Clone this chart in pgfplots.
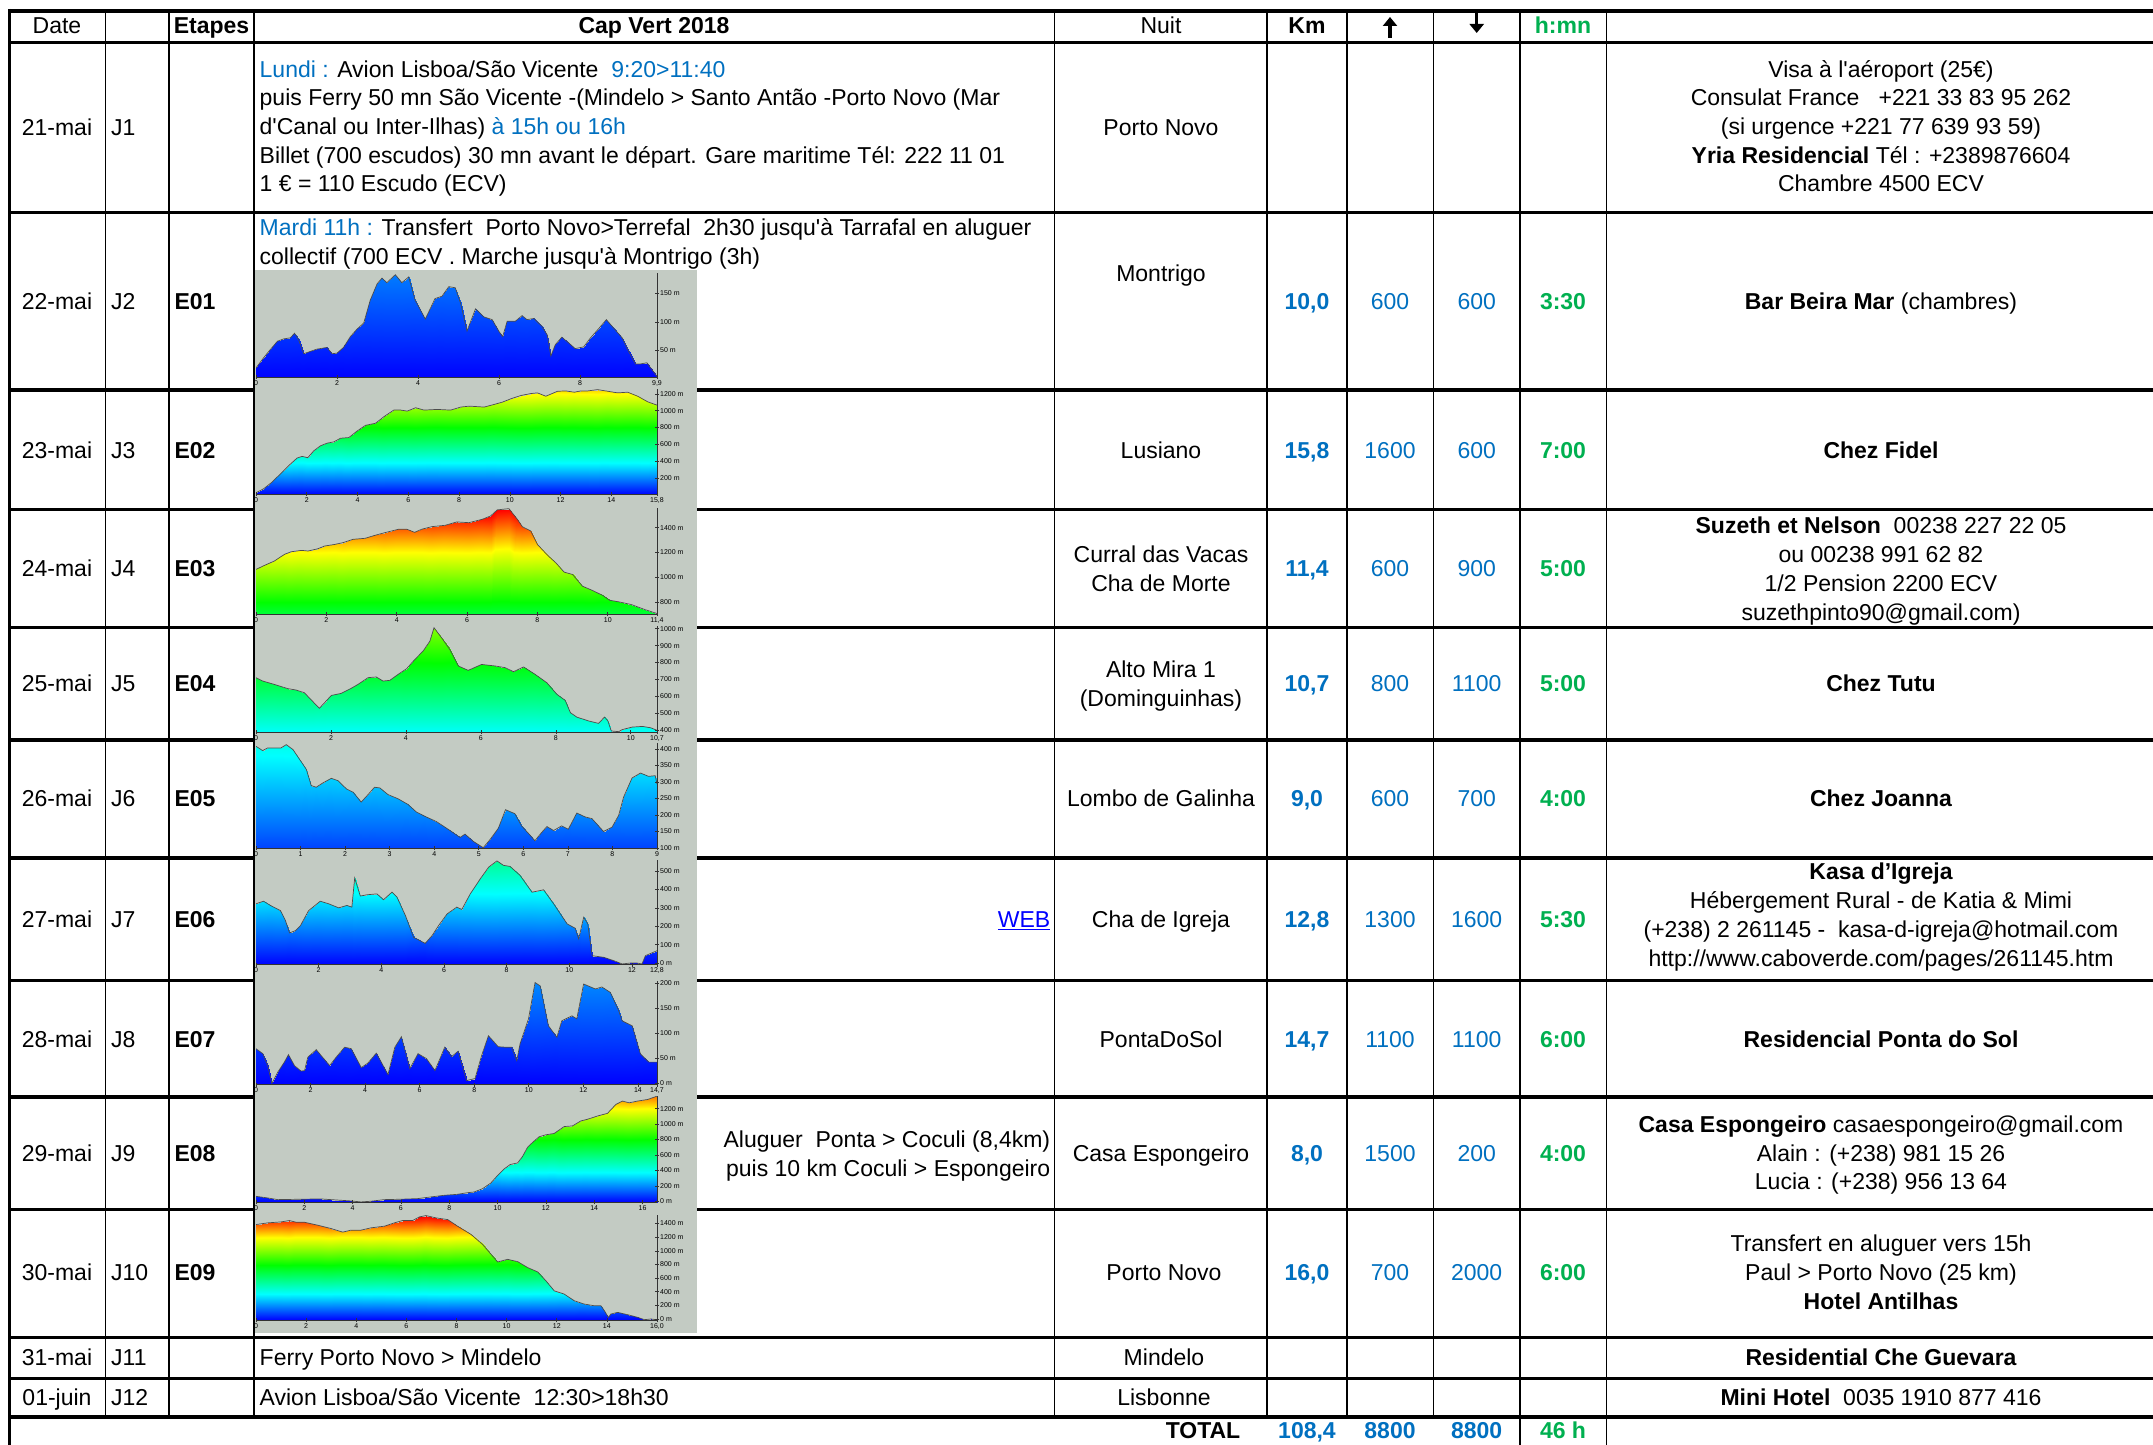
\documentclass[border=0pt]{standalone}
\usepackage{fontspec}
\setmainfont{Liberation Sans}
\newfontfamily\lib{Liberation Sans}
\usepackage{pgfplots}
\pgfplotsset{compat=1.18}
\usepackage{pgfplotstable}
\usetikzlibrary{arrows.meta}

\definecolor{xblue}{RGB}{0,112,192}
\definecolor{xgreen}{RGB}{0,176,80}
\definecolor{webblue}{RGB}{0,0,255}
\definecolor{imgbg}{RGB}{195,203,195}

\newcommand\tf{\lib\fontsize{23}{27}\selectfont}
\newcommand\bl[1]{\textcolor{xblue}{#1}}
\newcommand\bb[1]{\textcolor{xblue}{\bfseries #1}}
\newcommand\gb[1]{\textcolor{xgreen}{\bfseries #1}}

% elevation profiles: each pair of rows = (km, altitude) then (km, axis floor)
\pgfplotstableread[row sep=\\]{
x y\\
0 19\\0 3\\ 0.19 37\\0.19 3\\ 0.35 51\\0.35 3\\ 0.53 66\\0.53 3\\ 0.68 70\\0.68 3\\
0.85 72\\0.85 3\\ 0.95 80\\0.95 3\\ 1.05 69\\1.05 3\\ 1.18 44\\1.18 3\\ 1.34 48\\1.34 3\\
1.5 52\\1.5 3\\ 1.75 55\\1.75 3\\ 1.88 44\\1.88 3\\ 2.0 45\\2.0 3\\ 2.16 55\\2.16 3\\
2.33 74\\2.33 3\\ 2.49 87\\2.49 3\\ 2.66 98\\2.66 3\\ 2.82 138\\2.82 3\\ 2.99 167\\2.99 3\\
3.11 177\\3.11 3\\ 3.23 169\\3.23 3\\ 3.44 183\\3.44 3\\ 3.6 169\\3.6 3\\ 3.77 179\\3.77 3\\
3.93 138\\3.93 3\\ 4.18 105\\4.18 3\\ 4.42 141\\4.42 3\\ 4.59 145\\4.59 3\\ 4.76 162\\4.76 3\\
4.92 160\\4.92 3\\ 5.05 133\\5.05 3\\ 5.21 84\\5.21 3\\ 5.42 123\\5.42 3\\ 5.62 109\\5.62 3\\
5.83 104\\5.83 3\\ 6.0 83\\6.0 3\\ 6.09 74\\6.09 3\\ 6.2 101\\6.2 3\\ 6.4 101\\6.4 3\\
6.57 111\\6.57 3\\ 6.69 104\\6.69 3\\ 6.86 106\\6.86 3\\ 7.06 92\\7.06 3\\ 7.19 77\\7.19 3\\
7.28 40\\7.28 3\\ 7.39 60\\7.39 3\\ 7.55 73\\7.55 3\\ 7.72 63\\7.72 3\\ 7.88 53\\7.88 3\\
8.09 56\\8.09 3\\ 8.26 72\\8.26 3\\ 8.46 88\\8.46 3\\ 8.65 104\\8.65 3\\ 8.83 89\\8.83 3\\
9.04 72\\9.04 3\\ 9.2 48\\9.2 3\\ 9.37 26\\9.37 3\\ 9.49 26\\9.49 3\\ 9.65 28\\9.65 3\\
9.9 4\\9.9 3\\
}\pA

\pgfplotstableread[row sep=\\]{
x y\\
0 23\\0 8\\ 0.3 70\\0.3 8\\ 0.63 149\\0.63 8\\ 0.96 247\\0.96 8\\ 1.29 346\\1.29 8\\
1.62 436\\1.62 8\\ 1.82 456\\1.82 8\\ 2.04 440\\2.04 8\\ 2.28 523\\2.28 8\\ 2.54 582\\2.54 8\\
2.8 613\\2.8 8\\ 3.07 629\\3.07 8\\ 3.33 672\\3.33 8\\ 3.66 680\\3.66 8\\ 3.99 759\\3.99 8\\
4.32 826\\4.32 8\\ 4.71 850\\4.71 8\\ 5.04 928\\5.04 8\\ 5.43 1007\\5.43 8\\ 5.7 1007\\5.7 8\\
5.96 995\\5.96 8\\ 6.29 1035\\6.29 8\\ 6.62 1007\\6.62 8\\ 7.14 1015\\7.14 8\\ 7.67 1007\\7.67 8\\
8.07 1043\\8.07 8\\ 8.4 1054\\8.4 8\\ 8.99 1043\\8.99 8\\ 9.38 1074\\9.38 8\\ 9.71 1102\\9.71 8\\
10.04 1141\\10.04 8\\ 10.43 1180\\10.43 8\\ 10.83 1204\\10.83 8\\ 11.09 1212\\11.09 8\\
11.42 1172\\11.42 8\\ 11.88 1231\\11.88 8\\ 12.21 1235\\12.21 8\\ 12.54 1220\\12.54 8\\
12.8 1235\\12.8 8\\ 13.07 1235\\13.07 8\\ 13.46 1251\\13.46 8\\ 13.86 1231\\13.86 8\\
14.25 1212\\14.25 8\\ 14.64 1220\\14.64 8\\ 15.04 1172\\15.04 8\\ 15.43 1106\\15.43 8\\
15.8 1066\\15.8 8\\
}\pB

\pgfplotstableread[row sep=\\]{
x y\\
0 1064\\0 705\\ 0.24 1096\\0.24 705\\ 0.52 1131\\0.52 705\\ 0.81 1185\\0.81 705\\
1.0 1206\\1.0 705\\ 1.29 1217\\1.29 705\\ 1.48 1212\\1.48 705\\ 1.76 1230\\1.76 705\\
1.95 1252\\1.95 705\\ 2.24 1265\\2.24 705\\ 2.47 1279\\2.47 705\\ 2.76 1306\\2.76 705\\
3.1 1314\\3.1 705\\ 3.38 1338\\3.38 705\\ 3.67 1360\\3.67 705\\ 4.05 1387\\4.05 705\\
4.29 1387\\4.29 705\\ 4.51 1362\\4.51 705\\ 4.71 1387\\4.71 705\\ 5.0 1408\\5.0 705\\
5.38 1419\\5.38 705\\ 5.71 1446\\5.71 705\\ 6.05 1440\\6.05 705\\ 6.43 1467\\6.43 705\\
6.67 1494\\6.67 705\\ 6.86 1543\\6.86 705\\ 7.19 1553\\7.19 705\\ 7.43 1467\\7.43 705\\
7.57 1408\\7.57 705\\ 7.81 1373\\7.81 705\\ 8.0 1265\\8.0 705\\ 8.29 1177\\8.29 705\\
8.52 1118\\8.52 705\\ 8.76 1042\\8.76 705\\ 9.0 1023\\9.0 705\\ 9.28 929\\9.28 705\\
9.57 894\\9.57 705\\ 9.86 854\\9.86 705\\ 10.05 816\\10.05 705\\ 10.33 802\\10.33 705\\
10.67 781\\10.67 705\\ 11.05 741\\11.05 705\\ 11.4 709\\11.4 705\\
}\pC

\pgfplotstableread[row sep=\\]{
x y\\
0 711\\0 390\\ 0.18 691\\0.18 390\\ 0.49 671\\0.49 390\\ 0.85 646\\0.85 390\\
1.07 638\\1.07 390\\ 1.29 622\\1.29 390\\ 1.52 569\\1.52 390\\ 1.69 530\\1.69 390\\
1.83 563\\1.83 390\\ 2.01 606\\2.01 390\\ 2.27 618\\2.27 390\\ 2.54 648\\2.54 390\\
2.72 671\\2.72 390\\ 2.99 711\\2.99 390\\ 3.21 715\\3.21 390\\ 3.39 691\\3.39 390\\
3.57 695\\3.57 390\\ 3.79 730\\3.79 390\\ 4.02 764\\4.02 390\\ 4.24 819\\4.24 390\\
4.46 868\\4.46 390\\ 4.64 927\\4.64 390\\ 4.75 1006\\4.75 390\\ 4.95 947\\4.95 390\\
5.17 878\\5.17 390\\ 5.4 780\\5.4 390\\ 5.66 754\\5.66 390\\ 6.02 789\\6.02 390\\
6.38 780\\6.38 390\\ 6.65 770\\6.65 390\\ 6.87 746\\6.87 390\\ 7.14 774\\7.14 390\\
7.45 730\\7.45 390\\ 7.76 681\\7.76 390\\ 8.03 612\\8.03 390\\ 8.25 577\\8.25 390\\
8.39 504\\8.39 390\\ 8.56 478\\8.56 390\\ 8.88 455\\8.88 390\\ 9.14 441\\9.14 390\\
9.3 478\\9.3 390\\ 9.39 455\\9.39 390\\ 9.48 396\\9.48 390\\ 9.68 392\\9.68 390\\
9.77 404\\9.77 390\\ 10.04 419\\10.04 390\\ 10.31 423\\10.31 390\\ 10.53 415\\10.53 390\\
10.7 400\\10.7 390\\
}\pD

\pgfplotstableread[row sep=\\]{
x y\\
0 408\\0 100\\ 0.15 395\\0.15 100\\ 0.26 403\\0.26 100\\ 0.56 403\\0.56 100\\
0.68 413\\0.68 100\\ 0.83 398\\0.83 100\\ 0.98 368\\0.98 100\\ 1.13 338\\1.13 100\\
1.24 289\\1.24 100\\ 1.35 284\\1.35 100\\ 1.5 297\\1.5 100\\ 1.69 311\\1.69 100\\
1.84 304\\1.84 100\\ 2.03 279\\2.03 100\\ 2.18 269\\2.18 100\\ 2.36 239\\2.36 100\\
2.51 261\\2.51 100\\ 2.66 284\\2.66 100\\ 2.78 282\\2.78 100\\ 2.96 262\\2.96 100\\
3.19 249\\3.19 100\\ 3.41 232\\3.41 100\\ 3.6 209\\3.6 100\\ 3.79 196\\3.79 100\\
4.05 180\\4.05 100\\ 4.31 157\\4.31 100\\ 4.58 132\\4.58 100\\ 4.69 142\\4.69 100\\
4.88 120\\4.88 100\\ 5.1 101\\5.1 100\\ 5.25 125\\5.25 100\\ 5.44 160\\5.44 100\\
5.6 216\\5.6 100\\ 5.81 204\\5.81 100\\ 5.96 167\\5.96 100\\ 6.11 145\\6.11 100\\
6.26 122\\6.26 100\\ 6.41 147\\6.41 100\\ 6.53 165\\6.53 100\\ 6.68 153\\6.68 100\\
6.86 167\\6.86 100\\ 7.01 157\\7.01 100\\ 7.2 206\\7.2 100\\ 7.39 194\\7.39 100\\
7.54 189\\7.54 100\\ 7.8 150\\7.8 100\\ 7.99 163\\7.99 100\\ 8.14 199\\8.14 100\\
8.25 254\\8.25 100\\ 8.44 312\\8.44 100\\ 8.63 327\\8.63 100\\ 8.81 317\\8.81 100\\
8.96 319\\8.96 100\\ 9.0 294\\9.0 100\\
}\pE

\pgfplotstableread[row sep=\\]{
x y\\
0 322\\0 -8\\ 0.24 336\\0.24 -8\\ 0.46 313\\0.46 -8\\ 0.78 285\\0.78 -8\\
0.94 231\\0.94 -8\\ 1.07 164\\1.07 -8\\ 1.26 176\\1.26 -8\\ 1.42 204\\1.42 -8\\
1.68 285\\1.68 -8\\ 2.05 336\\2.05 -8\\ 2.32 322\\2.32 -8\\ 2.64 300\\2.64 -8\\
2.9 313\\2.9 -8\\ 3.06 304\\3.06 -8\\ 3.15 462\\3.15 -8\\ 3.33 364\\3.33 -8\\
3.54 371\\3.54 -8\\ 3.86 376\\3.86 -8\\ 4.07 344\\4.07 -8\\ 4.34 385\\4.34 -8\\
4.5 358\\4.5 -8\\ 4.77 258\\4.77 -8\\ 5.03 140\\5.03 -8\\ 5.4 107\\5.4 -8\\
5.62 149\\5.62 -8\\ 5.83 204\\5.83 -8\\ 6.1 267\\6.1 -8\\ 6.41 304\\6.41 -8\\
6.57 291\\6.57 -8\\ 6.84 376\\6.84 -8\\ 7.16 458\\7.16 -8\\ 7.43 522\\7.43 -8\\
7.69 555\\7.69 -8\\ 7.9 531\\7.9 -8\\ 8.11 525\\8.11 -8\\ 8.43 476\\8.43 -8\\
8.81 385\\8.81 -8\\ 9.18 398\\9.18 -8\\ 9.5 322\\9.5 -8\\ 9.93 213\\9.93 -8\\
10.19 189\\10.19 -8\\ 10.3 131\\10.3 -8\\ 10.46 249\\10.46 -8\\ 10.59 213\\10.59 -8\\
10.73 40\\10.73 -8\\ 11.1 31\\11.1 -8\\ 11.42 13\\11.42 -8\\ 11.69 -5\\11.69 -8\\
11.95 0\\11.95 -8\\ 12.16 0\\12.16 -8\\ 12.32 -5\\12.32 -8\\ 12.43 40\\12.43 -8\\
12.8 67\\12.8 -8\\
}\pF

\pgfplotstableread[row sep=\\]{
x y\\
0 69\\0 -3\\ 0.25 59\\0.25 -3\\ 0.43 35\\0.43 -3\\ 0.58 -1\\0.58 -3\\ 0.8 22\\0.8 -3\\
1.04 42\\1.04 -3\\ 1.19 57\\1.19 -3\\ 1.41 35\\1.41 -3\\ 1.65 24\\1.65 -3\\ 1.78 25\\1.78 -3\\
1.9 52\\1.9 -3\\ 2.21 67\\2.21 -3\\ 2.39 55\\2.39 -3\\ 2.7 35\\2.7 -3\\ 2.94 52\\2.94 -3\\
3.25 72\\3.25 -3\\ 3.49 69\\3.49 -3\\ 3.86 31\\3.86 -3\\ 4.1 40\\4.1 -3\\ 4.41 60\\4.41 -3\\
4.66 35\\4.66 -3\\ 4.84 17\\4.84 -3\\ 5.09 72\\5.09 -3\\ 5.33 93\\5.33 -3\\ 5.64 29\\5.64 -3\\
5.94 59\\5.94 -3\\ 6.25 49\\6.25 -3\\ 6.56 25\\6.56 -3\\ 6.92 72\\6.92 -3\\ 7.17 53\\7.17 -3\\
7.41 64\\7.41 -3\\ 7.72 5\\7.72 -3\\ 8.03 9\\8.03 -3\\ 8.27 55\\8.27 -3\\ 8.52 95\\8.52 -3\\
8.88 73\\8.88 -3\\ 9.13 72\\9.13 -3\\ 9.37 72\\9.37 -3\\ 9.56 45\\9.56 -3\\ 9.68 79\\9.68 -3\\
9.99 129\\9.99 -3\\ 10.23 202\\10.23 -3\\ 10.42 195\\10.42 -3\\ 10.72 115\\10.72 -3\\
11.03 92\\11.03 -3\\ 11.21 125\\11.21 -3\\ 11.58 135\\11.58 -3\\ 11.76 129\\11.76 -3\\
12.01 199\\12.01 -3\\ 12.44 189\\12.44 -3\\ 12.68 193\\12.68 -3\\ 12.99 182\\12.99 -3\\
13.3 145\\13.3 -3\\ 13.42 125\\13.42 -3\\ 13.79 115\\13.79 -3\\ 14.09 59\\14.09 -3\\
14.4 42\\14.4 -3\\ 14.7 42\\14.7 -3\\
}\pG

\pgfplotstableread[row sep=\\]{
x y\\
0 64\\0 -10\\ 0.48 43\\0.48 -10\\ 0.9 21\\0.9 -10\\ 1.86 26\\1.86 -10\\ 2.69 30\\2.69 -10\\
3.1 21\\3.1 -10\\ 3.93 4\\3.93 -10\\ 4.34 -9\\4.34 -10\\ 4.76 0\\4.76 -10\\ 5.31 21\\5.31 -10\\
6.0 26\\6.0 -10\\ 6.69 34\\6.69 -10\\ 7.24 56\\7.24 -10\\ 7.79 77\\7.79 -10\\ 8.34 90\\8.34 -10\\
8.76 111\\8.76 -10\\ 9.03 120\\9.03 -10\\ 9.38 163\\9.38 -10\\ 9.72 236\\9.72 -10\\
10.0 334\\10.0 -10\\ 10.28 420\\10.28 -10\\ 10.52 476\\10.52 -10\\ 10.83 497\\10.83 -10\\
11.03 579\\11.03 -10\\ 11.24 699\\11.24 -10\\ 11.45 763\\11.45 -10\\ 11.72 836\\11.72 -10\\
12.0 862\\12.0 -10\\ 12.34 879\\12.34 -10\\ 12.76 969\\12.76 -10\\ 13.1 977\\13.1 -10\\
13.45 1042\\13.45 -10\\ 13.72 1063\\13.72 -10\\ 14.14 1106\\14.14 -10\\ 14.55 1140\\14.55 -10\\
14.9 1256\\14.9 -10\\ 15.17 1299\\15.17 -10\\ 15.45 1277\\15.45 -10\\ 15.79 1299\\15.79 -10\\
16.21 1320\\16.21 -10\\ 16.6 1363\\16.6 -10\\
}\pH

\pgfplotstableread[row sep=\\]{
x y\\
0 1385\\0 -15\\ 0.47 1410\\0.47 -15\\ 1.0 1424\\1.0 -15\\ 1.33 1444\\1.33 -15\\
1.6 1419\\1.6 -15\\ 1.93 1419\\1.93 -15\\ 2.46 1376\\2.46 -15\\ 2.99 1327\\2.99 -15\\
3.46 1274\\3.46 -15\\ 3.79 1303\\3.79 -15\\ 4.19 1303\\4.19 -15\\ 4.59 1337\\4.59 -15\\
5.12 1361\\5.12 -15\\ 5.52 1410\\5.52 -15\\ 5.85 1444\\5.85 -15\\ 6.25 1444\\6.25 -15\\
6.52 1497\\6.52 -15\\ 6.78 1517\\6.78 -15\\ 7.18 1483\\7.18 -15\\ 7.65 1458\\7.65 -15\\
8.04 1361\\8.04 -15\\ 8.58 1240\\8.58 -15\\ 9.04 1094\\9.04 -15\\ 9.38 948\\9.38 -15\\
9.64 836\\9.64 -15\\ 10.04 875\\10.04 -15\\ 10.44 841\\10.44 -15\\ 10.84 754\\10.84 -15\\
11.24 690\\11.24 -15\\ 11.57 559\\11.57 -15\\ 11.9 413\\11.9 -15\\ 12.3 365\\12.3 -15\\
12.7 267\\12.7 -15\\ 13.1 219\\13.1 -15\\ 13.5 194\\13.5 -15\\ 13.76 194\\13.76 -15\\
13.9 122\\13.9 -15\\ 14.06 24\\14.06 -15\\ 14.16 73\\14.16 -15\\ 14.43 97\\14.43 -15\\
14.83 63\\14.83 -15\\ 15.23 24\\15.23 -15\\ 15.5 -10\\15.5 -15\\ 15.76 0\\15.76 -15\\
16.0 -12\\16.0 -15\\
}\pI

\pgfplotsset{
  prof/.style={
    scale only axis, width=401pt, anchor=south west, xmin=0,
    axis x line*=bottom, axis y line*=right, axis on top,
    axis line style={black!80, line width=0.7pt},
    every tick/.style={black!80, line width=0.6pt},
    tick align=center, major tick length=4pt,
    ticklabel style={font=\fontsize{7}{8}\selectfont, inner sep=1pt},
    colormap={elev}{rgb255(0cm)=(0,0,255); rgb255(3.8cm)=(0,255,255);
      rgb255(8cm)=(0,255,0); rgb255(12cm)=(255,255,0); rgb255(15cm)=(255,0,0)},
    point meta min=0, point meta max=1500,
  },
  fillp/.style={surf, shader=interp, point meta=y, mesh/ordering=y varies, mesh/rows=2},
  linep/.style={black!70, line width=0.7pt, no marks, each nth point=2, filter discard warning=false},
}

\begin{document}
\begin{tikzpicture}[x=1pt, y=-1pt, t/.style={font=\tf, inner sep=0pt, anchor=base}]
\useasboundingbox (0,0) rectangle (2153,1445);
\begin{scope}
\clip (0,0) rectangle (2153,1445);
\fill[white] (0,0) rectangle (2153,1445);

% grid
\foreach \yy in {42.6,212.8,390,509.4,627.5,740,858,980.4,1097,1209.7,1337.4,1378.6,1417}
  \draw[line width=3.2pt] (8,\yy) -- (2160,\yy);
\draw[line width=4pt] (8,11) -- (2160,11);
\foreach \xx in {105.7,169,254,1054.5,1267,1347,1433.5}
  \draw[line width=1.3pt] (\xx,11) -- (\xx,1417);
\foreach \xx in {1520,1606.5}
  \draw[line width=1.3pt] (\xx,11) -- (\xx,1450);
\draw[line width=3pt] (9.6,9) -- (9.6,1450);

% profile backgrounds
\foreach \ya/\yb in {270/389,388/507,507/626,625/741,741/858.5,858/979,979/1096.5,1095/1211,1211/1333}
  \fill[imgbg] (254.5,\ya) rectangle (697,\yb);

\coordinate (a1) at (256,377);
\coordinate (a2) at (256,494);
\coordinate (a3) at (256,614);
\coordinate (a4) at (256,732);
\coordinate (a5) at (256,848);
\coordinate (a6) at (256,964.5);
\coordinate (a7) at (256,1084.5);
\coordinate (a8) at (256,1202);
\coordinate (a9) at (256,1320);

\begin{axis}[prof, at={(a1)}, height=104pt, xmax=9.9, ymin=3, ymax=186,
  xtick={0,2,4,6,8,9.9}, xticklabels={0,2,4,6,8,{9,9}},
  ytick={50,100,150}, yticklabels={50 m,100 m,150 m}]
\addplot[fillp] table {\pA};
\addplot[linep] table {\pA};
\end{axis}

\begin{axis}[prof, at={(a2)}, height=105pt, xmax=15.8, ymin=8, ymax=1258,
  xtick={0,2,4,6,8,10,12,14,15.8}, xticklabels={0,2,4,6,8,10,12,14,{15,8}},
  ytick={200,400,600,800,1000,1200}, yticklabels={200 m,400 m,600 m,800 m,1000 m,1200 m}]
\addplot[fillp] table {\pB};
\addplot[linep] table {\pB};
\end{axis}

\begin{axis}[prof, at={(a3)}, height=106pt, xmax=11.4, ymin=705, ymax=1558,
  xtick={0,2,4,6,8,10,11.4}, xticklabels={0,2,4,6,8,10,{11,4}},
  ytick={800,1000,1200,1400}, yticklabels={800 m,1000 m,1200 m,1400 m}]
\addplot[fillp] table {\pC};
\addplot[linep] table {\pC};
\end{axis}

\begin{axis}[prof, at={(a4)}, height=106pt, xmax=10.7, ymin=390, ymax=1016,
  xtick={0,2,4,6,8,10,10.7}, xticklabels={0,2,4,6,8,10,{10,7}},
  ytick={400,500,600,700,800,900,1000}, yticklabels={400 m,500 m,600 m,700 m,800 m,900 m,1000 m}]
\addplot[fillp] table {\pD};
\addplot[linep] table {\pD};
\end{axis}

\begin{axis}[prof, at={(a5)}, height=105pt, xmax=9, ymin=100, ymax=418,
  xtick={0,1,2,3,4,5,6,7,8,9}, xticklabels={0,1,2,3,4,5,6,7,8,9},
  ytick={100,150,200,250,300,350,400}, yticklabels={100 m,150 m,200 m,250 m,300 m,350 m,400 m}]
\addplot[fillp] table {\pE};
\addplot[linep] table {\pE};
\end{axis}

\begin{axis}[prof, at={(a6)}, height=104.5pt, xmax=12.8, ymin=-8, ymax=560,
  xtick={0,2,4,6,8,10,12,12.8}, xticklabels={0,2,4,6,8,10,12,{12,8}},
  ytick={0,100,200,300,400,500}, yticklabels={0 m,100 m,200 m,300 m,400 m,500 m}]
\addplot[fillp] table {\pF};
\addplot[linep] table {\pF};
\end{axis}

\begin{axis}[prof, at={(a7)}, height=103.5pt, xmax=14.7, ymin=-3, ymax=205,
  xtick={0,2,4,6,8,10,12,14,14.7}, xticklabels={0,2,4,6,8,10,12,14,{14,7}},
  ytick={0,50,100,150,200}, yticklabels={0 m,50 m,100 m,150 m,200 m}]
\addplot[fillp] table {\pG};
\addplot[linep] table {\pG};
\end{axis}

\begin{axis}[prof, at={(a8)}, height=106pt, xmax=16.6, ymin=-10, ymax=1365,
  xtick={0,2,4,6,8,10,12,14,16}, xticklabels={0,2,4,6,8,10,12,14,16},
  ytick={0,200,400,600,800,1000,1200}, yticklabels={0 m,200 m,400 m,600 m,800 m,1000 m,1200 m}]
\addplot[fillp] table {\pH};
\addplot[linep] table {\pH};
\end{axis}

\begin{axis}[prof, at={(a9)}, height=105pt, xmax=16, ymin=-15, ymax=1525,
  xtick={0,2,4,6,8,10,12,14,16}, xticklabels={0,2,4,6,8,10,12,14,{16,0}},
  ytick={0,200,400,600,800,1000,1200,1400}, yticklabels={0 m,200 m,400 m,600 m,800 m,1000 m,1200 m,1400 m}]
\addplot[fillp] table {\pI};
\addplot[linep] table {\pI};
\end{axis}

% header
\node[t] at (57,33.8) {Date};
\node[t] at (211.5,33.8) {\bfseries Etapes};
\node[t] at (654,33.8) {\bfseries Cap Vert 2018};
\node[t] at (1161,33.8) {Nuit};
\node[t] at (1307,33.8) {\bfseries Km};
\draw[line width=3.4pt, -{Triangle[length=9pt,width=14pt]}] (1390,38) -- (1390,17);
\draw[line width=3.4pt, -{Triangle[length=9pt,width=14pt]}] (1476.7,12) -- (1476.7,33);
\node[t] at (1563,33.8) {\gb{h:mn}};

% J1
\node[t] at (57,135.4) {21-mai};
\node[t,anchor=base west] at (111,135.4) {J1};
\node[t,anchor=base west] at (259.5,77.5) {\bl{Lundi :} Avion Lisboa/São Vicente\ \ \bl{9:20>11:40}};
\node[t,anchor=base west] at (259.5,106) {puis Ferry 50 mn São Vicente -(Mindelo > Santo Antão -Porto Novo (Mar};
\node[t,anchor=base west] at (259.5,134.5) {d'Canal ou Inter-Ilhas) \bl{à 15h ou 16h}};
\node[t,anchor=base west] at (259.5,163) {Billet (700 escudos) 30 mn avant le départ. Gare maritime Tél: 222 11 01};
\node[t,anchor=base west] at (259.5,191.5) {1 € = 110 Escudo (ECV)};
\node[t] at (1161,135.4) {Porto Novo};
\node[t] at (1881,77.5) {Visa à l'aéroport (25€)};
\node[t] at (1881,106) {Consulat France\ \ \ +221 33 83 95 262};
\node[t] at (1881,134.5) {(si urgence +221 77 639 93 59)};
\node[t] at (1881,163) {\textbf{Yria Residencial} Tél : +2389876604};
\node[t] at (1881,191.5) {Chambre 4500 ECV};

% J2
\node[t] at (57,309.8) {22-mai};
\node[t,anchor=base west] at (111,309.8) {J2};
\node[t,anchor=base west] at (174.4,309.8) {\bfseries E01};
\node[t,anchor=base west] at (259.5,235.7) {\bl{Mardi 11h :} Transfert\ \ Porto Novo>Terrefal\ \ 2h30 jusqu'à Tarrafal en aluguer};
\node[t,anchor=base west] at (259.5,264.5) {collectif (700 ECV . Marche jusqu'à Montrigo (3h)};
\node[t] at (1161,281) {Montrigo};
\node[t] at (1307,309.8) {\bb{10,0}};
\node[t] at (1390,309.8) {\bl{600}};
\node[t] at (1476.7,309.8) {\bl{600}};
\node[t] at (1563,309.8) {\gb{3:30}};
\node[t] at (1881,309.8) {\textbf{Bar Beira Mar} (chambres)};

% J3
\node[t] at (57,458) {23-mai};
\node[t,anchor=base west] at (111,458) {J3};
\node[t,anchor=base west] at (174.4,458) {\bfseries E02};
\node[t] at (1161,458) {Lusiano};
\node[t] at (1307,458) {\bb{15,8}};
\node[t] at (1390,458) {\bl{1600}};
\node[t] at (1476.7,458) {\bl{600}};
\node[t] at (1563,458) {\gb{7:00}};
\node[t] at (1881,458) {\bfseries Chez Fidel};

% J4
\node[t] at (57,576.2) {24-mai};
\node[t,anchor=base west] at (111,576.2) {J4};
\node[t,anchor=base west] at (174.4,576.2) {\bfseries E03};
\node[t] at (1161,562.4) {Curral das Vacas};
\node[t] at (1161,591.3) {Cha de Morte};
\node[t] at (1307,576.2) {\bb{11,4}};
\node[t] at (1390,576.2) {\bl{600}};
\node[t] at (1476.7,576.2) {\bl{900}};
\node[t] at (1563,576.2) {\gb{5:00}};
\node[t] at (1881,533.6) {\textbf{Suzeth et Nelson}\ \ 00238 227 22 05};
\node[t] at (1881,562.4) {ou 00238 991 62 82};
\node[t] at (1881,591.3) {1/2 Pension 2200 ECV};
\node[t] at (1881,620.1) {suzethpinto90@gmail.com)};

% J5
\node[t] at (57,691.5) {25-mai};
\node[t,anchor=base west] at (111,691.5) {J5};
\node[t,anchor=base west] at (174.4,691.5) {\bfseries E04};
\node[t] at (1161,677.8) {Alto Mira 1};
\node[t] at (1161,706.6) {(Dominguinhas)};
\node[t] at (1307,691.5) {\bb{10,7}};
\node[t] at (1390,691.5) {\bl{800}};
\node[t] at (1476.7,691.5) {\bl{1100}};
\node[t] at (1563,691.5) {\gb{5:00}};
\node[t] at (1881,691.5) {\bfseries Chez Tutu};

% J6
\node[t] at (57,806.8) {26-mai};
\node[t,anchor=base west] at (111,806.8) {J6};
\node[t,anchor=base west] at (174.4,806.8) {\bfseries E05};
\node[t] at (1161,806.8) {Lombo de Galinha};
\node[t] at (1307,806.8) {\bb{9,0}};
\node[t] at (1390,806.8) {\bl{600}};
\node[t] at (1476.7,806.8) {\bl{700}};
\node[t] at (1563,806.8) {\gb{4:00}};
\node[t] at (1881,806.8) {\bfseries Chez Joanna};

% J7
\node[t] at (57,927.7) {27-mai};
\node[t,anchor=base west] at (111,927.7) {J7};
\node[t,anchor=base west] at (174.4,927.7) {\bfseries E06};
\node[t,anchor=base east] at (1050.4,927.7) {\textcolor{webblue}{\underline{WEB}}};
\node[t] at (1161,927.7) {Cha de Igreja};
\node[t] at (1307,927.7) {\bb{12,8}};
\node[t] at (1390,927.7) {\bl{1300}};
\node[t] at (1476.7,927.7) {\bl{1600}};
\node[t] at (1563,927.7) {\gb{5:30}};
\node[t] at (1881,879.6) {\bfseries Kasa d’Igreja};
\node[t] at (1881,908.5) {Hébergement Rural - de Katia \& Mimi};
\node[t] at (1881,937.3) {(+238) 2 261145 -\ \ kasa-d-igreja@hotmail.com};
\node[t] at (1881,966.1) {http://www.caboverde.com/pages/261145.htm};

% J8
\node[t] at (57,1047.1) {28-mai};
\node[t,anchor=base west] at (111,1047.1) {J8};
\node[t,anchor=base west] at (174.4,1047.1) {\bfseries E07};
\node[t] at (1161,1047.1) {PontaDoSol};
\node[t] at (1307,1047.1) {\bb{14,7}};
\node[t] at (1390,1047.1) {\bl{1100}};
\node[t] at (1476.7,1047.1) {\bl{1100}};
\node[t] at (1563,1047.1) {\gb{6:00}};
\node[t] at (1881,1047.1) {\bfseries Residencial Ponta do Sol};

% J9
\node[t] at (57,1161.1) {29-mai};
\node[t,anchor=base west] at (111,1161.1) {J9};
\node[t,anchor=base west] at (174.4,1161.1) {\bfseries E08};
\node[t,anchor=base east] at (1050.4,1147.4) {Aluguer\ \ Ponta > Coculi (8,4km)};
\node[t,anchor=base east] at (1050.4,1176.2) {puis 10 km Coculi > Espongeiro};
\node[t] at (1161,1161.1) {Casa Espongeiro};
\node[t] at (1307,1161.1) {\bb{8,0}};
\node[t] at (1390,1161.1) {\bl{1500}};
\node[t] at (1476.7,1161.1) {\bl{200}};
\node[t] at (1563,1161.1) {\gb{4:00}};
\node[t] at (1881,1132.3) {\textbf{Casa Espongeiro} casaespongeiro@gmail.com};
\node[t] at (1881,1161.1) {Alain : (+238) 981 15 26};
\node[t] at (1881,1189.9) {Lucia : (+238) 956 13 64};

% J10
\node[t] at (57,1280.6) {30-mai};
\node[t,anchor=base west] at (111,1280.6) {J10};
\node[t,anchor=base west] at (174.4,1280.6) {\bfseries E09};
\node[t] at (1164,1280.6) {Porto Novo};
\node[t] at (1307,1280.6) {\bb{16,0}};
\node[t] at (1390,1280.6) {\bl{700}};
\node[t] at (1476.7,1280.6) {\bl{2000}};
\node[t] at (1563,1280.6) {\gb{6:00}};
\node[t] at (1881,1251.7) {Transfert en aluguer vers 15h};
\node[t] at (1881,1280.6) {Paul > Porto Novo (25 km)};
\node[t] at (1881,1309.4) {\bfseries Hotel Antilhas};

% J11, J12
\node[t] at (57,1365.7) {31-mai};
\node[t,anchor=base west] at (111,1365.7) {J11};
\node[t,anchor=base west] at (259.5,1365.7) {Ferry Porto Novo > Mindelo};
\node[t] at (1164,1365.7) {Mindelo};
\node[t] at (1881,1365.7) {\bfseries Residential Che Guevara};
\node[t] at (57,1405.5) {01-juin};
\node[t,anchor=base west] at (111,1405.5) {J12};
\node[t,anchor=base west] at (259.5,1405.5) {Avion Lisboa/São Vicente\ \ 12:30>18h30};
\node[t] at (1164,1405.5) {Lisbonne};
\node[t] at (1881,1405.5) {\textbf{Mini Hotel}\ \ 0035 1910 877 416};

% total
\node[t] at (1203,1438.5) {\bfseries TOTAL};
\node[t] at (1307,1438.5) {\bb{108,4}};
\node[t] at (1390,1438.5) {\bb{8800}};
\node[t] at (1476.7,1438.5) {\bb{8800}};
\node[t] at (1563,1438.5) {\gb{46 h}};
\end{scope}
\end{tikzpicture}
\end{document}
